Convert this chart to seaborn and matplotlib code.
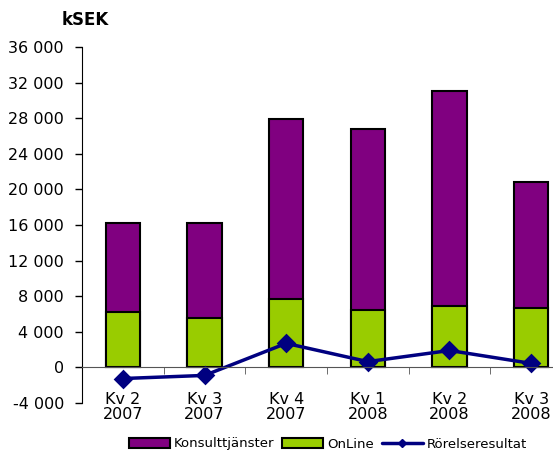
import matplotlib
matplotlib.use("Agg")
import matplotlib.pyplot as plt
import seaborn as sns
import pandas as pd
from matplotlib.patches import Patch
from matplotlib.lines import Line2D
from matplotlib.ticker import FuncFormatter, FixedLocator

# data (kSEK)
kvartal = ["Kv 2\n2007", "Kv 3\n2007", "Kv 4\n2007", "Kv 1\n2008", "Kv 2\n2008", "Kv 3\n2008"]
online = [6200, 5500, 7650, 6500, 6850, 6650]
konsult = [10000, 10700, 20250, 20300, 24200, 14150]
rorelse = [-1250, -900, 2700, 650, 1900, 450]

df = pd.DataFrame({"Kvartal": kvartal, "OnLine": online, "Konsult": konsult, "Rorelse": rorelse})
df["Total"] = df["OnLine"] + df["Konsult"]

purple = "#800080"
green = "#99CC00"
navy = "#000080"

sns.set_style("white")
plt.rcParams["font.family"] = ["DejaVu Sans"]
plt.rcParams["text.color"] = "black"
plt.rcParams["xtick.color"] = "black"
plt.rcParams["ytick.color"] = "black"

fig = plt.figure(figsize=(5.53, 4.5), dpi=100)
ax = fig.add_axes([82 / 553, 1 - 403 / 450, 490 / 553, 356 / 450])

sns.barplot(data=df, x="Kvartal", y="Total", color=purple, width=0.42,
            edgecolor="black", linewidth=1.5, saturation=1, ax=ax)
sns.barplot(data=df, x="Kvartal", y="OnLine", color=green, width=0.42,
            edgecolor="black", linewidth=1.5, saturation=1, ax=ax)
sns.pointplot(data=df, x="Kvartal", y="Rorelse", color=navy, markers="D",
              markersize=8, linewidth=2.5, ax=ax)

ax.set_xlim(-0.5, 5.5)
ax.set_ylim(-4000, 36000)
ax.set_yticks(range(-4000, 36001, 4000))
ax.yaxis.set_major_formatter(FuncFormatter(lambda v, p: f"{v:,.0f}".replace(",", " ")))
ax.set_xlabel("")
ax.set_ylabel("")

for s in ["top", "right"]:
    ax.spines[s].set_visible(False)
ax.spines["bottom"].set_position(("data", 0))
ax.spines["bottom"].set_color("#555555")
ax.spines["left"].set_color("black")

ax.tick_params(axis="y", direction="out", length=5, width=1, labelsize=11.5, left=True,
               pad=8, labelcolor="black")
ax.tick_params(axis="x", which="major", length=0, labelsize=11.5, pad=18, labelcolor="black")
ax.xaxis.set_minor_locator(FixedLocator([0.5, 1.5, 2.5, 3.5, 4.5]))
ax.tick_params(axis="x", which="minor", direction="out", length=5, color="#555555", bottom=True)
for lab in ax.get_xticklabels():
    lab.set_linespacing(1.0)

fig.text(85 / 553, 1 - 20 / 450, "kSEK", fontsize=12, fontweight="bold", va="center",
         ha="center", color="black")

handles = [
    Patch(facecolor=purple, edgecolor="black", linewidth=1.5, label="Konsulttjänster"),
    Patch(facecolor=green, edgecolor="black", linewidth=1.5, label="OnLine"),
    Line2D([0], [0], color=navy, lw=2.5, marker="D", markersize=4, label="Rörelseresultat"),
]
fig.legend(handles=handles, loc="center", bbox_to_anchor=(328 / 553, 1 - 444 / 450),
           ncol=3, frameon=False, fontsize=9.5, handlelength=3.1, handleheight=0.8,
           columnspacing=0.6, handletextpad=0.3, labelcolor="black")

fig.savefig("out.png", dpi=100)
